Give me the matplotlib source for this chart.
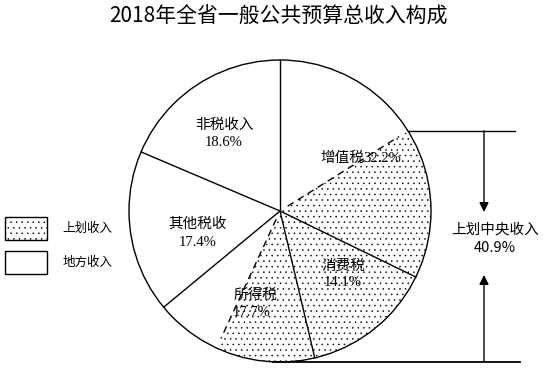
import numpy as np
import matplotlib
matplotlib.use('Agg')
import matplotlib.pyplot as plt
from matplotlib.patches import Patch

plt.rcParams['font.family'] = ['Noto Sans CJK SC', 'DejaVu Sans']
plt.rcParams['hatch.color'] = 'black'
plt.rcParams['hatch.linewidth'] = 0.35

# 数据 (顺时针, 从12点方向开始)
categories = ['增值税', '消费税', '所得税', '其他税收', '非税收入']
shares = [32.2, 14.1, 17.7, 17.4, 18.6]
# 各项中上划中央部分
central_part = [16.1, 14.1, 10.6, 0.0, 0.0]
central_total = 40.9

# 拆成扇区: 增值税先地方后上划; 其余先上划后地方
pieces = []
hatched = []
dashed_after = []
for name, s, c in zip(categories, shares, central_part):
    local = s - c
    if name == '增值税':
        order = [(local, False), (c, True)]
    else:
        order = [(c, True), (local, False)]
    order = [o for o in order if o[0] > 0]
    for k, (v, h) in enumerate(order):
        pieces.append(v)
        hatched.append(h)
        dashed_after.append(k < len(order) - 1)

fig = plt.figure(figsize=(5.44, 3.77), dpi=100)
ax = fig.add_axes([0, 0, 1, 1])

cx, cy, r = 280, 166, 151

wedges, _ = ax.pie(pieces, center=(cx, cy), radius=r, startangle=90,
                   counterclock=False, colors=['white'] * len(pieces),
                   wedgeprops=dict(linewidth=0, edgecolor='black'), frame=True)
for w, h in zip(wedges, hatched):
    if h:
        w.set_hatch('...')
ax.set_xlim(0, 544)
ax.set_ylim(0, 377)
ax.axis('off')

# 外圈
circ = plt.Circle((cx, cy), r, fill=False, color='black', lw=1.0)
ax.add_patch(circ)

# 分隔线
cum = 0
angles = []
for i, (v, d) in enumerate(zip(pieces, dashed_after)):
    a = np.deg2rad(90 - cum * 3.6)
    angles.append(a)
    prev_dashed = i > 0 and dashed_after[i - 1]
    if prev_dashed:
        r0, r1 = 0.06 * r, 0.93 * r
        ax.plot([cx + r0 * np.cos(a), cx + r1 * np.cos(a)],
                [cy + r0 * np.sin(a), cy + r1 * np.sin(a)],
                color='black', lw=1.0, linestyle=(0, (5, 3.5)))
    else:
        ax.plot([cx, cx + r * np.cos(a)], [cy, cy + r * np.sin(a)],
                color='black', lw=1.0)
    cum += v

# 标签
cjk_fs = 10.5
num_font = ['Liberation Serif', 'Noto Sans CJK SC']
lab = [('非税收入', 224, 252, '18.6%', 224, 235),
       ('其他税收', 198, 153, '17.4%', 198, 135),
       ('消费税', 343, 111, '14.1%', 343, 94),
       ('所得税', 256, 82, '17.7%', 252, 64)]
for t, x, y, p, px, py in lab:
    ax.text(x, y, t, ha='center', va='center', fontsize=cjk_fs)
    ax.text(px, py, p, ha='center', va='center', fontsize=10.5, family=num_font)
ax.text(364, 219, '增值税', ha='right', va='center', fontsize=cjk_fs)
ax.text(363, 218, '%.1f%%' % shares[0], ha='left', va='center', fontsize=10.5, family=num_font)

# 上划中央收入 括号
a_top = angles[1]
x_top = cx + r * np.cos(a_top)
y_top = cy + r * np.sin(a_top)
ax.plot([x_top, 515], [y_top, y_top], color='black', lw=1.0)
ax.plot([cx - 7, 520], [cy - r, cy - r], color='black', lw=1.3)
ax.annotate('', xy=(484, 165), xytext=(484, y_top),
            arrowprops=dict(arrowstyle='-|>', color='black', lw=1.0,
                            mutation_scale=14, shrinkA=0, shrinkB=0))
ax.annotate('', xy=(484, 102), xytext=(484, cy - r),
            arrowprops=dict(arrowstyle='-|>', color='black', lw=1.0,
                            mutation_scale=14, shrinkA=0, shrinkB=0))
ax.text(495, 148, '上划中央收入', ha='center', va='center', fontsize=10.5)
ax.text(495, 129, '%.1f%%' % central_total, ha='center', va='center', fontsize=10.5)

# 图例
handles = [Patch(facecolor='white', edgecolor='black', hatch='...', lw=1.0),
           Patch(facecolor='white', edgecolor='black', lw=1.0)]
ax.legend(handles, ['上划收入', '地方收入'], loc='upper left',
          bbox_to_anchor=(0.0, 1 - 212 / 377), frameon=False, fontsize=9,
          handlelength=3.4, handleheight=2.45, labelspacing=0.88,
          handletextpad=1.2, borderaxespad=0.0)

ax.text(278, 360, '2018年全省一般公共预算总收入构成', ha='center', va='center',
        fontsize=15)

fig.savefig('out.png', dpi=100)
